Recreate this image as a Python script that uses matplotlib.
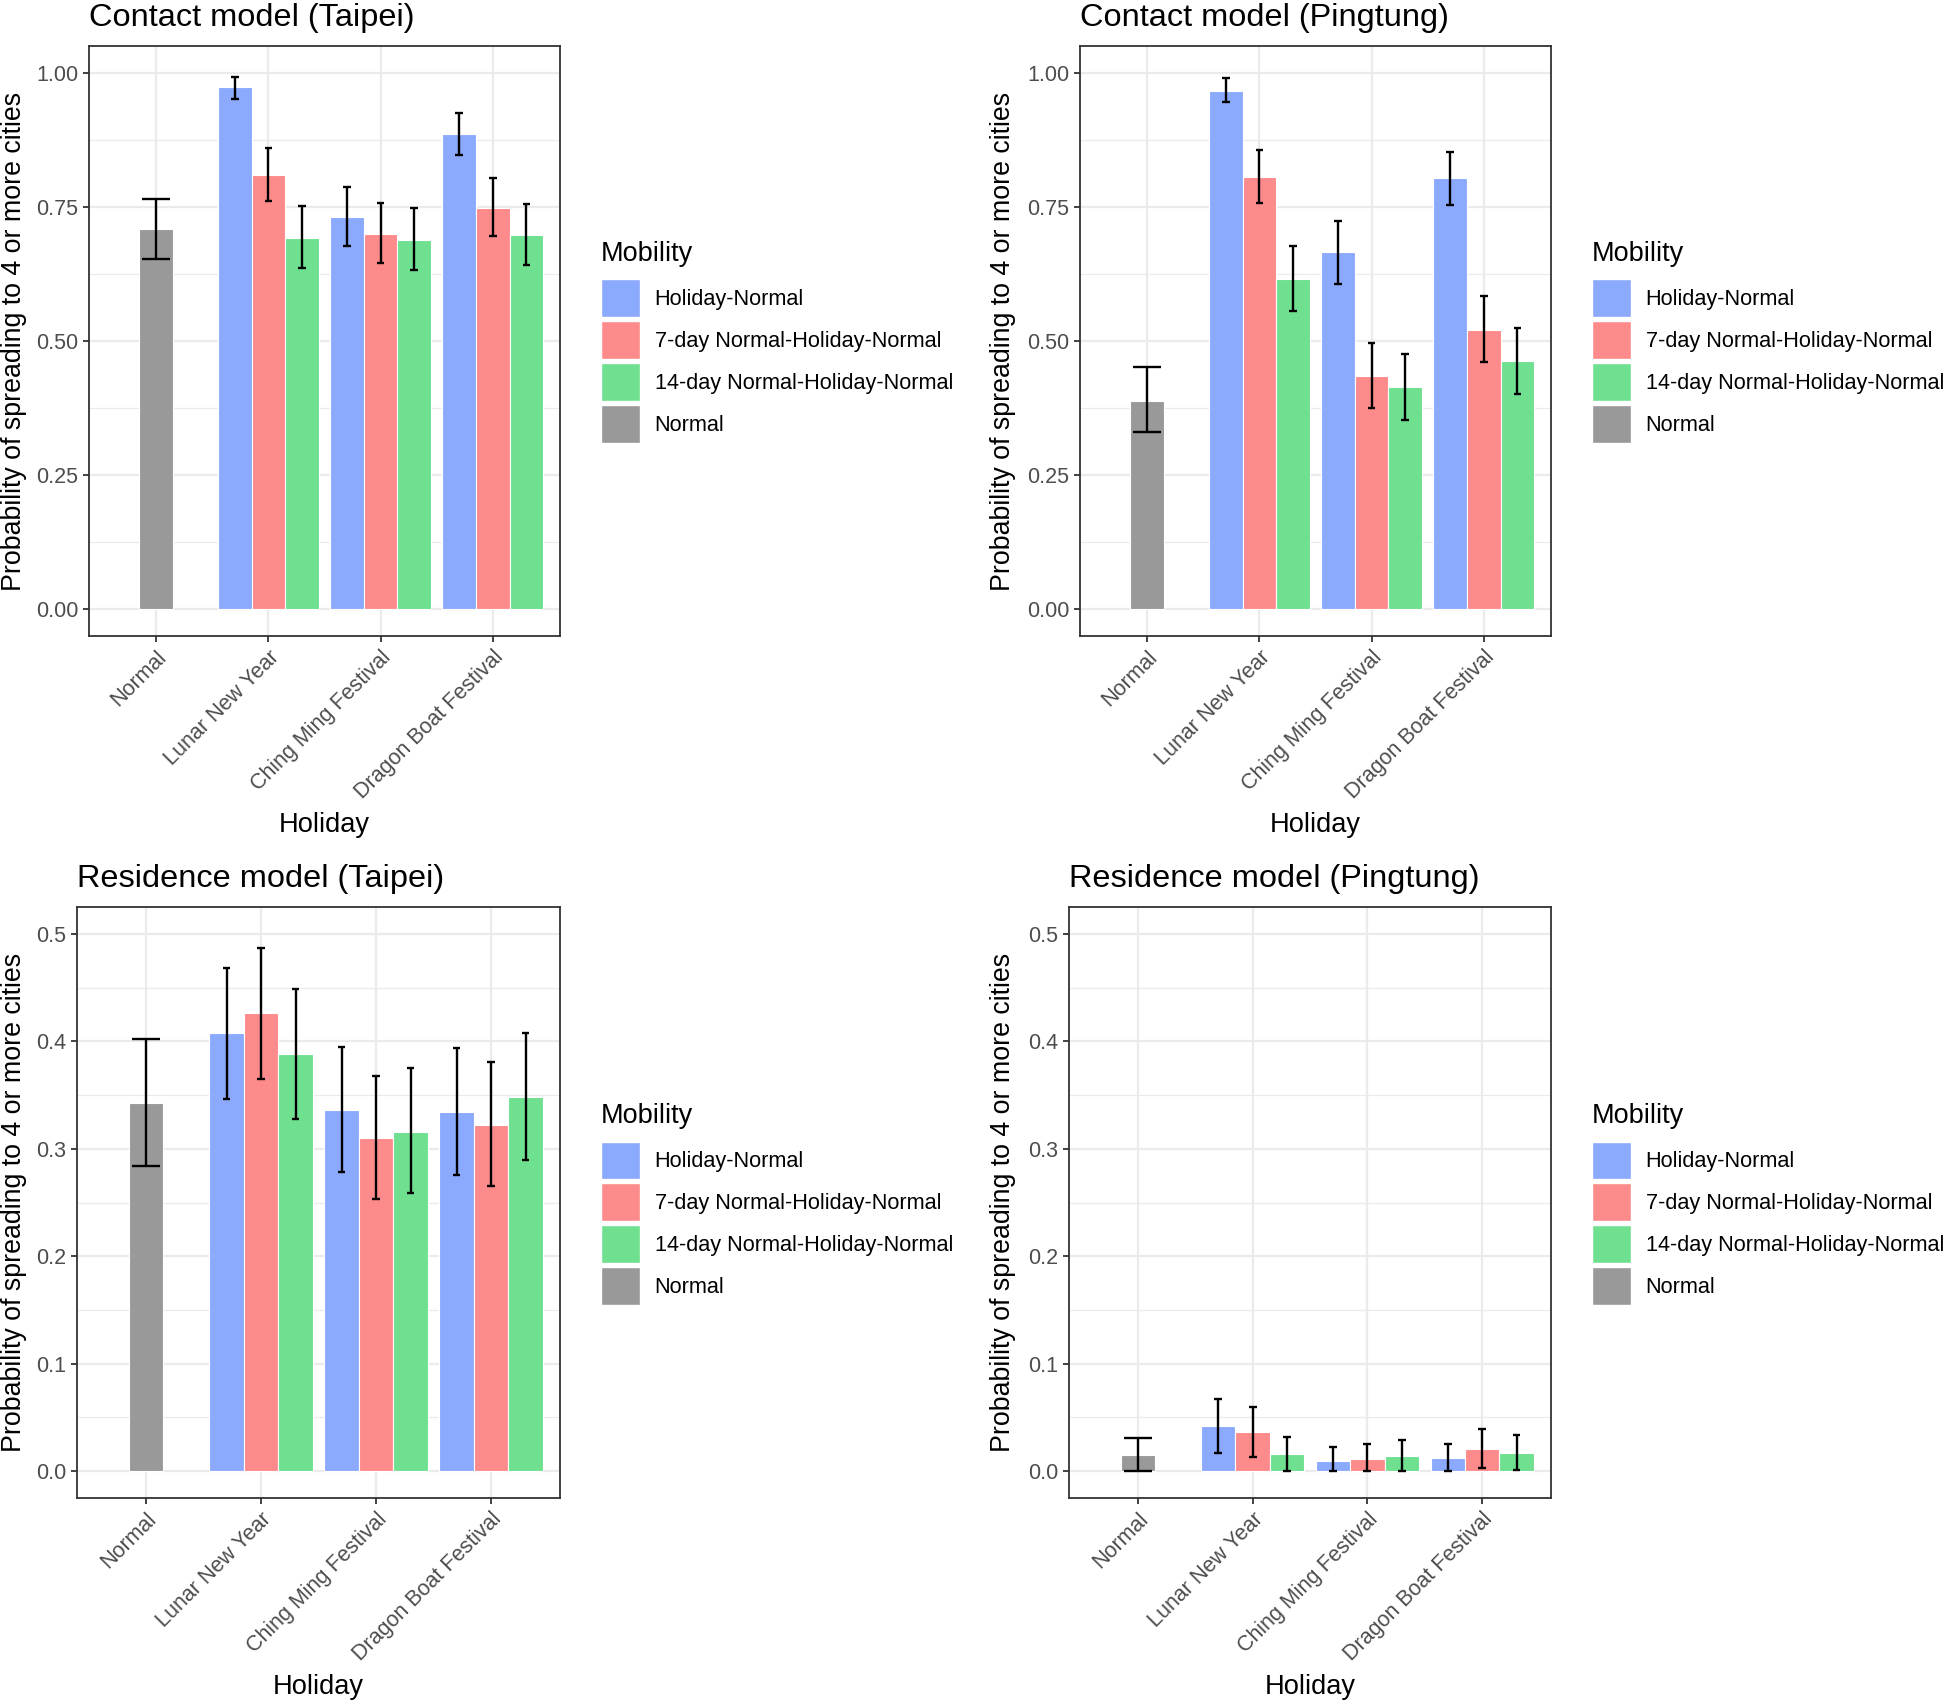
import matplotlib
matplotlib.use("Agg")
import matplotlib.pyplot as plt
from matplotlib.patches import Patch
import numpy as np

plt.rcParams['font.family'] = ['Liberation Sans', 'DejaVu Sans']

holidays = ["Normal", "Lunar New Year", "Ching Ming Festival", "Dragon Boat Festival"]
mobility = ["Holiday-Normal", "7-day Normal-Holiday-Normal", "14-day Normal-Holiday-Normal", "Normal"]
colors = ["#8CAAFD", "#FD8B8B", "#6FE08F", "#999999"]

titles = ["Contact model (Taipei)", "Contact model (Pingtung)",
          "Residence model (Taipei)", "Residence model (Pingtung)"]

# Normal baseline: value, lower, upper
normal_val = [0.709, 0.389, 0.343, 0.015]
normal_lo = [0.652, 0.330, 0.284, 0.000]
normal_hi = [0.765, 0.452, 0.402, 0.031]

# Holiday scenarios: rows = Holiday-Normal, 7-day, 14-day ; cols = LNY, CM, DB
ct_val = [[0.974, 0.732, 0.886], [0.809, 0.700, 0.748], [0.692, 0.689, 0.697]]
ct_lo = [[0.952, 0.677, 0.846], [0.761, 0.645, 0.695], [0.636, 0.632, 0.641]]
ct_hi = [[0.993, 0.788, 0.926], [0.859, 0.758, 0.803], [0.751, 0.748, 0.755]]

cp_val = [[0.967, 0.665, 0.804], [0.805, 0.435, 0.520], [0.616, 0.414, 0.462]]
cp_lo = [[0.945, 0.606, 0.754], [0.757, 0.375, 0.460], [0.556, 0.353, 0.401]]
cp_hi = [[0.990, 0.724, 0.853], [0.856, 0.497, 0.584], [0.677, 0.476, 0.524]]

rt_val = [[0.408, 0.336, 0.334], [0.426, 0.310, 0.322], [0.388, 0.316, 0.348]]
rt_lo = [[0.346, 0.278, 0.276], [0.365, 0.253, 0.265], [0.328, 0.259, 0.290]]
rt_hi = [[0.468, 0.395, 0.394], [0.487, 0.368, 0.381], [0.449, 0.375, 0.408]]

rp_val = [[0.0416, 0.0096, 0.0118], [0.0363, 0.0112, 0.0208], [0.0158, 0.0140, 0.0170]]
rp_lo = [[0.017, 0.000, 0.000], [0.0134, 0.000, 0.0028], [0.0003, 0.000, 0.0009]]
rp_hi = [[0.067, 0.022, 0.0255], [0.060, 0.025, 0.0394], [0.032, 0.0289, 0.0335]]

panels = [(ct_val, ct_lo, ct_hi), (cp_val, cp_lo, cp_hi),
          (rt_val, rt_lo, rt_hi), (rp_val, rp_lo, rp_hi)]

W, H = 1946, 1701
fig = plt.figure(figsize=(W / 100, H / 100), dpi=100)

# axes boxes in pixels: left, top, right, bottom
boxes = [(89, 46, 560, 636), (1080, 46, 1551, 636),
         (77, 907, 560, 1498), (1069, 907, 1551, 1498)]
leg_pos = [(601, 241), (1592, 241), (601, 1103), (1592, 1103)]

grid_c = "#EBEBEB"
dark = "#333333"
txt = "#4D4D4D"
bw = 0.3

for i, (vals, los, his) in enumerate(panels):
    l, t, r, b = boxes[i]
    ax = fig.add_axes([l / W, 1 - b / H, (r - l) / W, (b - t) / H])
    top = i < 2
    ymax = 1.0 if top else 0.5
    ax.set_ylim(-0.05 * ymax, 1.05 * ymax)
    ax.set_xlim(-0.6, 3.6)
    if top:
        yt = [0, 0.25, 0.5, 0.75, 1.0]
        ylabels = ["0.00", "0.25", "0.50", "0.75", "1.00"]
    else:
        yt = [0, 0.1, 0.2, 0.3, 0.4, 0.5]
        ylabels = ["0.0", "0.1", "0.2", "0.3", "0.4", "0.5"]
    ax.set_yticks(yt)
    ax.set_yticklabels(ylabels)
    ax.set_yticks([(a + c) / 2 for a, c in zip(yt[:-1], yt[1:])], minor=True)
    ax.set_xticks(range(4))
    ax.set_xticklabels(holidays, rotation=45, ha="right", va="top", rotation_mode="anchor")
    ax.grid(True, which="major", color=grid_c, linewidth=1.6, zorder=0)
    ax.grid(True, which="minor", axis="y", color=grid_c, linewidth=0.9, zorder=0)
    ax.set_axisbelow(True)
    ax.tick_params(which="major", length=4.5, width=1.3, color=dark, labelsize=15.5,
                   labelcolor=txt, pad=3)
    ax.tick_params(which="minor", length=0)
    for sp in ax.spines.values():
        sp.set_color(dark)
        sp.set_linewidth(1.3)

    # Normal bar
    ax.bar(0, normal_val[i], width=bw, color=colors[3], edgecolor="white", linewidth=0.8, zorder=2)
    ax.vlines(0, normal_lo[i], normal_hi[i], color="black", linewidth=1.7, zorder=3)
    ax.hlines([normal_lo[i], normal_hi[i]], -0.125, 0.125, color="black", linewidth=1.7, zorder=3)

    xs = np.arange(1, 4)
    for k in range(3):
        xpos = xs + (k - 1) * bw
        ax.bar(xpos, vals[k], width=bw, color=colors[k], edgecolor="white", linewidth=0.8, zorder=2)
        ax.vlines(xpos, los[k], his[k], color="black", linewidth=1.7, zorder=3)
        ax.hlines(los[k], xpos - 0.034, xpos + 0.034, color="black", linewidth=1.7, zorder=3)
        ax.hlines(his[k], xpos - 0.034, xpos + 0.034, color="black", linewidth=1.7, zorder=3)

    ax.set_title(titles[i], loc="left", fontsize=23.4, pad=14.5, color="black")
    ax.set_xlabel("Holiday", fontsize=19.6)
    ax.set_ylabel("Probability of spreading to 4 or more cities", fontsize=19.3)
    w = r - l
    hh = b - t
    ylab_x = {0: 27, 1: 1016, 2: 27, 3: 1016}[i]
    ax.yaxis.set_label_coords((ylab_x - l) / w, 0.5)
    ax.xaxis.set_label_coords(0.5, -176 / hh)

    handles = [Patch(facecolor=c, edgecolor="white") for c in colors]
    lx, ly = leg_pos[i]
    leg = fig.legend(handles, mobility, loc="upper left",
                     bbox_to_anchor=(lx / W, 1 - ly / H), frameon=False,
                     fontsize=15.6, title="Mobility", title_fontsize=19.5,
                     handlelength=1.78, handleheight=2.265, labelspacing=0.22,
                     handletextpad=0.69, borderpad=0, borderaxespad=0)
    leg._legend_box.align = "left"
    leg._legend_box.sep = 9

fig.savefig("out.png", dpi=100)
